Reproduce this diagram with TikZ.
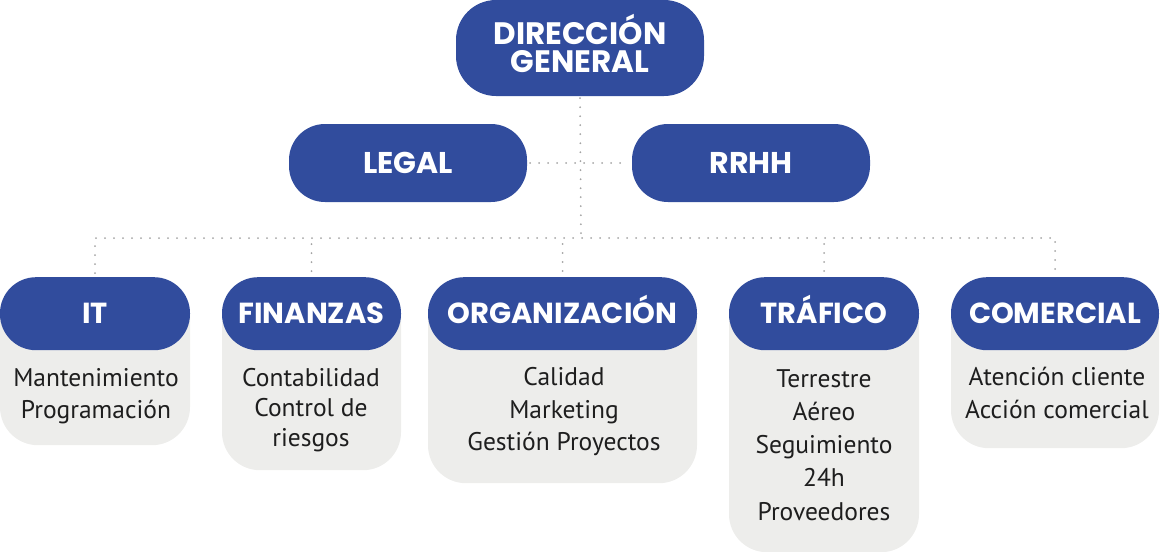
\documentclass[tikz,border=0pt]{standalone}
\usepackage{fontspec}
\setmainfont{PT Sans}
\newfontfamily\headfont{Poppins}
\definecolor{orgblue}{HTML}{314C9D}
\definecolor{orggrey}{HTML}{EDEDEB}
\definecolor{dotgrey}{HTML}{A3A3A3}
\definecolor{bodytext}{HTML}{1E1E1E}
\begin{document}
\begin{tikzpicture}[x=1pt,y=-1pt,
  hdr/.style={fill=orgblue, text=white, inner sep=0pt, rounded corners=36pt,
    font=\headfont\bfseries\fontsize{29}{28}\selectfont, align=center},
  hdrone/.style={hdr, text height=20pt, text depth=0pt},
  panel/.style={fill=orggrey, inner sep=0pt, rounded corners=38pt, anchor=north},
  txt/.style={text=bodytext, align=center, inner sep=0pt,
    font=\fontsize{25.5}{32.5}\selectfont},
  dotline/.style={draw=dotgrey, line width=2pt, line cap=round, dash pattern=on 0pt off 9pt}
]
\useasboundingbox (0,0) rectangle (1163,552);

% top level
\node[hdr, minimum width=248pt, minimum height=96pt, rounded corners=40pt,
  font=\headfont\bfseries\fontsize{31}{28}\selectfont] (dg) at (580,48) {DIRECCI\smash{Ó}N\\GENERAL};
\node[hdrone, minimum width=238pt, minimum height=78pt, font=\headfont\bfseries\fontsize{30}{28}\selectfont] (legal) at (408,163) {LEGAL};
\node[hdrone, minimum width=238pt, minimum height=78pt, font=\headfont\bfseries\fontsize{30}{28}\selectfont] (rrhh) at (751,163) {RRHH};

% bottom panels
\node[panel, minimum width=190pt, minimum height=168pt] (itp) at (95,277) {};
\node[panel, minimum width=179pt, minimum height=193pt] (finp) at (311.5,277) {};
\node[panel, minimum width=269pt, minimum height=206pt] (orgp) at (562.5,277) {};
\node[panel, minimum width=190pt, minimum height=275pt] (trap) at (824,277) {};
\node[panel, minimum width=208pt, minimum height=171pt] (comp) at (1055,277) {};

\node[hdrone, anchor=north, minimum width=190pt, minimum height=73pt] (it) at (95,277) {IT};
\node[hdrone, anchor=north, minimum width=179pt, minimum height=73pt] (fin) at (311.5,277) {FINANZAS};
\node[hdrone, anchor=north, minimum width=269pt, minimum height=73pt] (org) at (562.5,277) {ORGANIZACIÓN};
\node[hdrone, anchor=north, minimum width=190pt, minimum height=73pt] (tra) at (824,277) {TRÁFICO};
\node[hdrone, anchor=north, minimum width=208pt, minimum height=73pt] (com) at (1055,277) {COMERCIAL};

\node[txt] (itt) at (96,396) {Mantenimiento\\Programación};
\node[txt, font=\fontsize{25.5}{30}\selectfont] (fint) at (311,410) {Contabilidad\\Control de\\riesgos};
\node[txt] (orgt) at (564,412) {Calidad\\Marketing\\Gestión Proyectos};
\node[txt, font=\fontsize{25.5}{33.2}\selectfont] (trat) at (824,445) {Terrestre\\Aéreo\\Seguimiento\\24h\\Proveedores};
\node[txt] (comt) at (1057,393) {Atención cliente\\Acción comercial};

% connectors
\coordinate (bus) at (581,238);
\draw[dotline, shorten <=2pt] (dg.south) -- (bus);
\draw[dotline, shorten <=3pt, shorten >=3pt] (legal.east) -- (rrhh.west);
\draw[dotline, shorten <=4pt, shorten >=2pt] (it.north) -- (it.north |- bus) -- (com.north |- bus) -- (com.north);
\draw[dotline, shorten <=6pt] (fin.north) -- (fin.north |- bus);
\draw[dotline, shorten <=6pt] (org.north) -- (org.north |- bus);
\draw[dotline, shorten <=6pt] (tra.north) -- (tra.north |- bus);
\end{tikzpicture}
\end{document}
